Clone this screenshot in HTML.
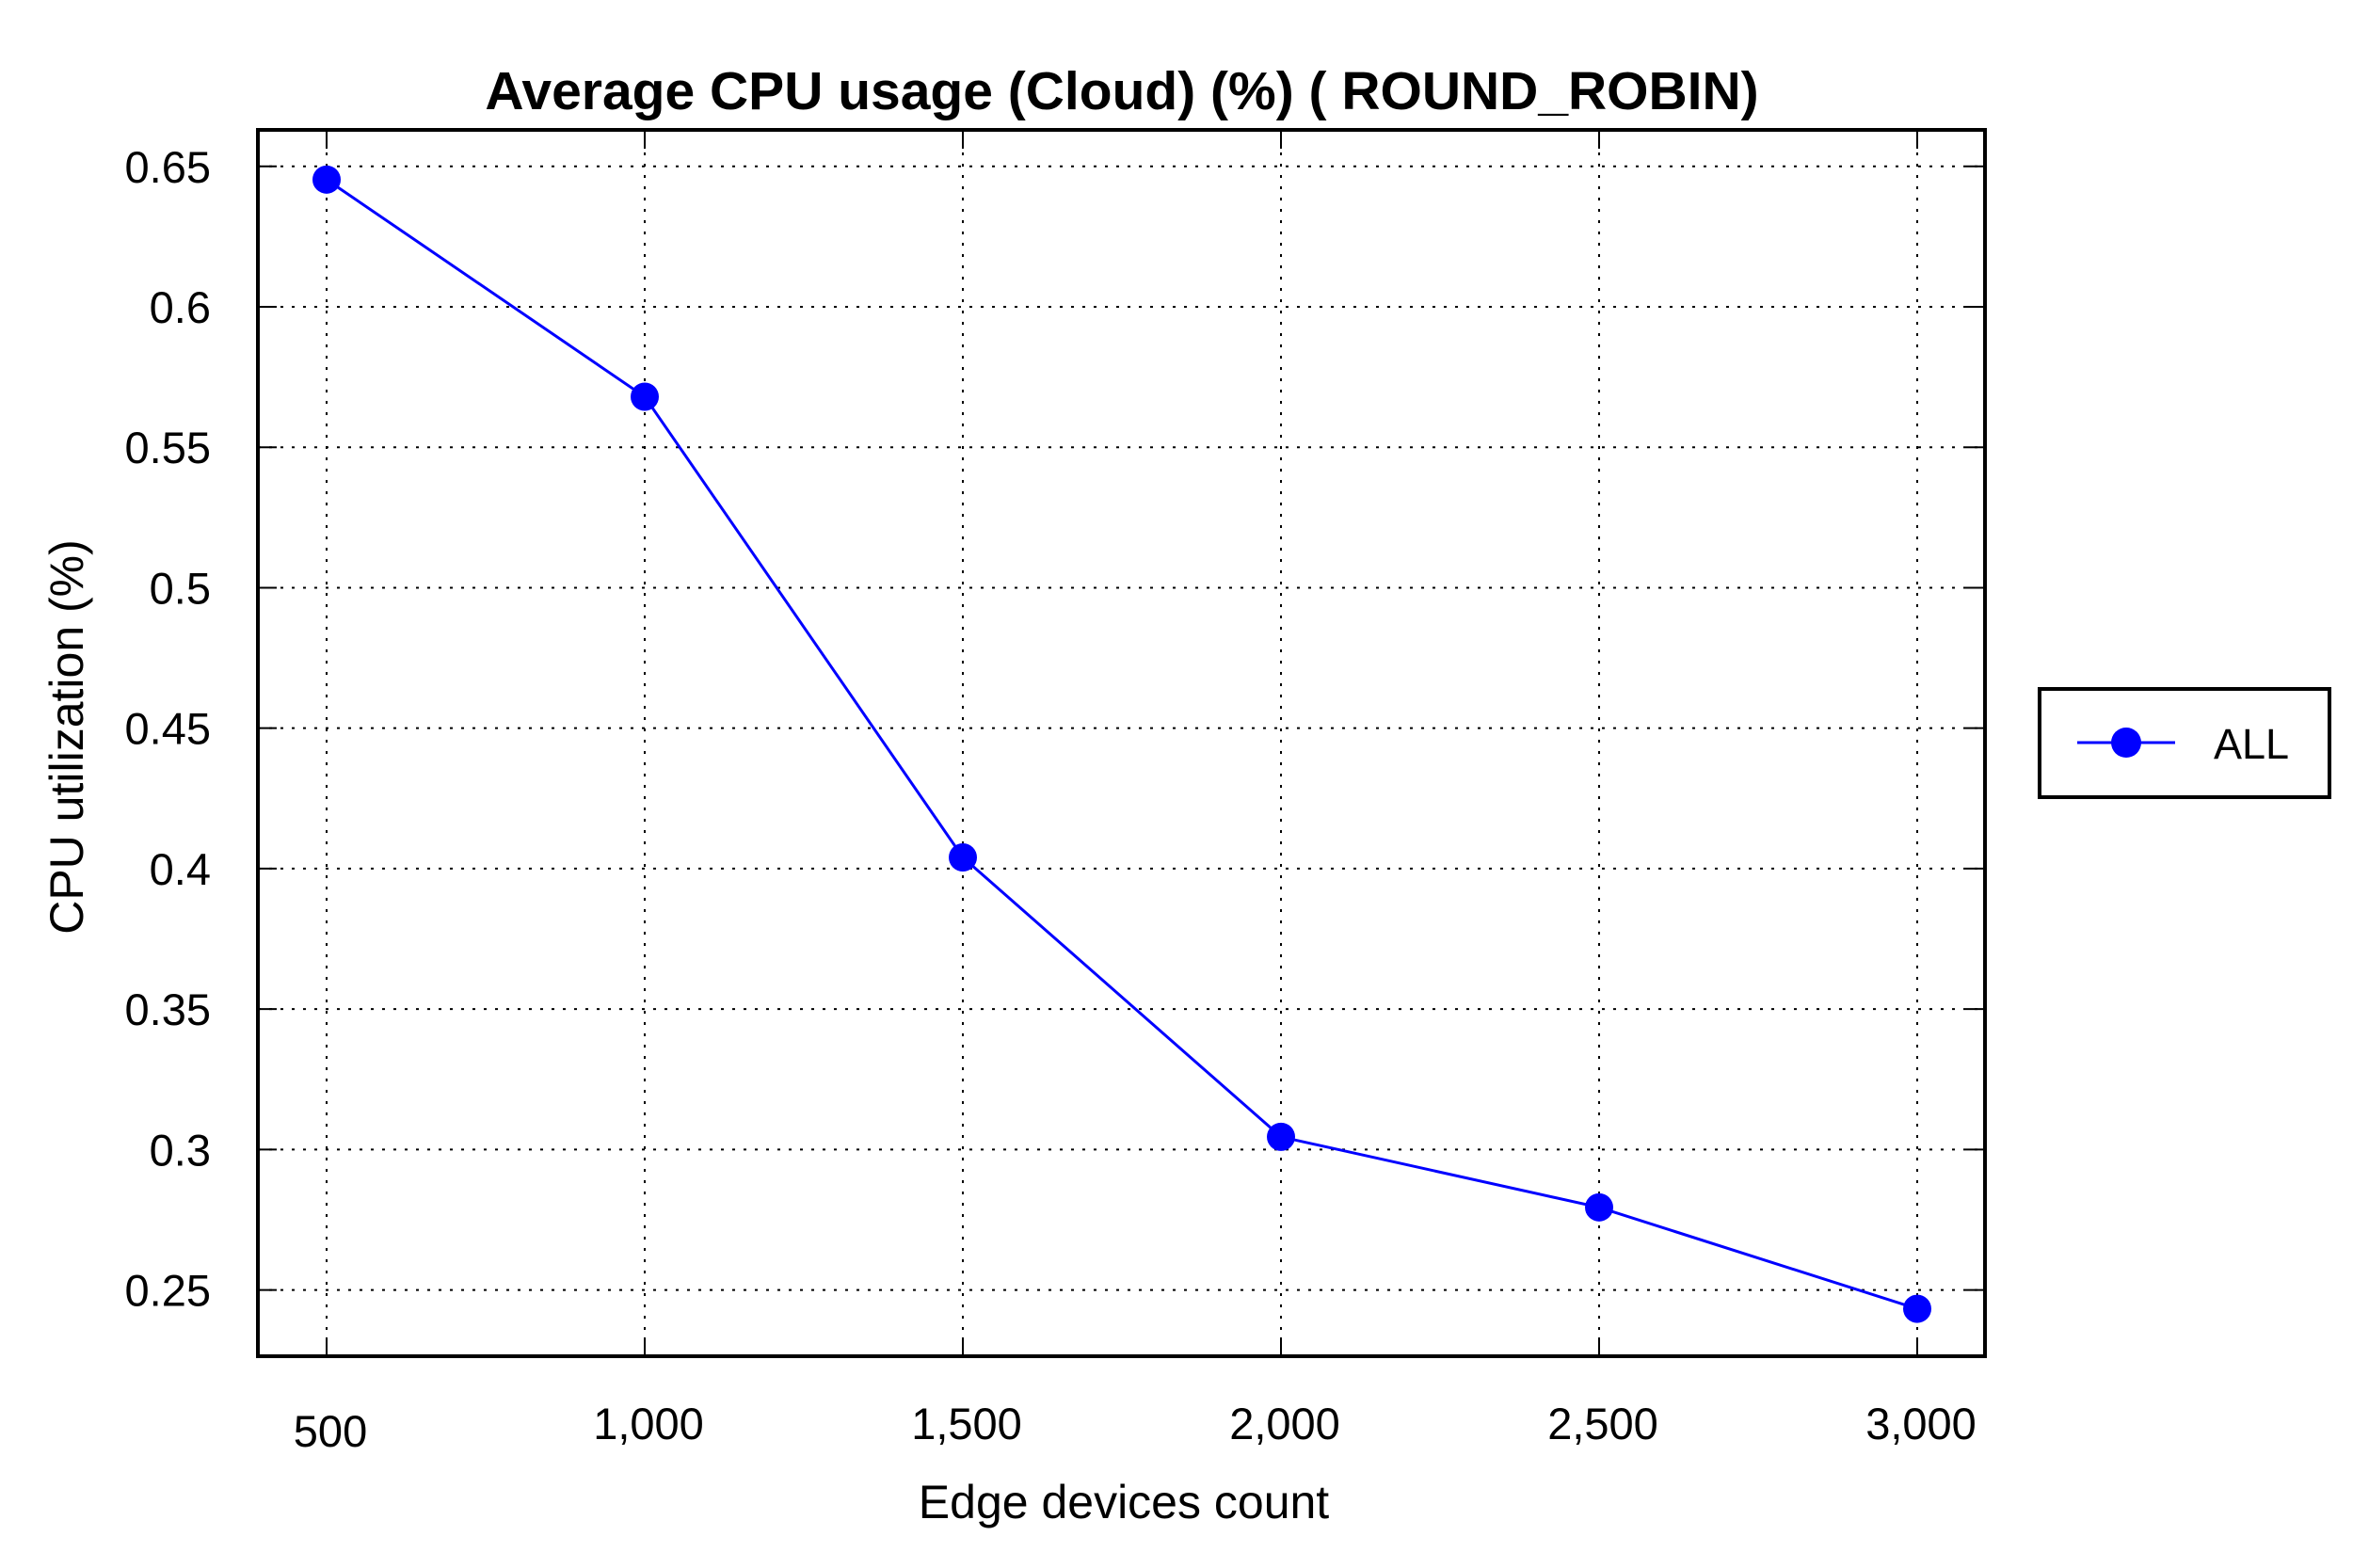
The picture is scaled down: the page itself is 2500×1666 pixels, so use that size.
<!DOCTYPE html>
<html><head><meta charset="utf-8"><style>
html,body{margin:0;padding:0;background:#fff;}
svg{display:block;font-family:"Liberation Sans",Arial,sans-serif;}
</style></head><body>
<svg id="chart" width="2500" height="1666" viewBox="0 0 2500 1666" xmlns="http://www.w3.org/2000/svg">
<rect width="2500" height="1666" fill="#fff"/>
<text x="1192" y="116" text-anchor="middle" font-size="57" font-weight="bold">Average CPU usage (Cloud) (%) ( ROUND_ROBIN)</text>
<g id="grid"></g>
<g id="ticks"></g>
<g id="series"></g>
<rect x="274" y="138" width="1835" height="1303" fill="none" stroke="#000" stroke-width="4"/>
<text x="1194" y="1613" text-anchor="middle" font-size="50">Edge devices count</text>
<text transform="translate(88,783) rotate(-90)" text-anchor="middle" font-size="50">CPU utilization (%)</text>
<g>
<rect x="2167" y="732" width="308" height="115" fill="#fff" stroke="#000" stroke-width="4"/>
<line x1="2207" y1="789" x2="2311" y2="789" stroke="#0000ff" stroke-width="3"/>
<circle cx="2259" cy="789" r="16" fill="#0000ff"/>
<text x="2352" y="806" font-size="45">ALL</text>
</g>
</svg>
<script>
const categories = [500, 1000, 1500, 2000, 2500, 3000];
const xTickLabels = ["500", "1,000", "1,500", "2,000", "2,500", "3,000"];
const seriesAll = [0.6453, 0.568, 0.404, 0.3045, 0.2794, 0.2433];
const yTicks = [0.25, 0.3, 0.35, 0.4, 0.45, 0.5, 0.55, 0.6, 0.65];
const yTickLabels = ["0.25", "0.3", "0.35", "0.4", "0.45", "0.5", "0.55", "0.6", "0.65"];

const L = 274, R = 2109, T = 138, B = 1441;
const xMin = 392, xMax = 3106.5, yMin = 0.2264, yMax = 0.6630;
const xs = v => L + (v - xMin) / (xMax - xMin) * (R - L);
const ys = v => B - (v - yMin) / (yMax - yMin) * (B - T);
const NS = "http://www.w3.org/2000/svg";
function mk(tag, attrs, parent) {
  const e = document.createElementNS(NS, tag);
  for (const k in attrs) e.setAttribute(k, attrs[k]);
  parent.appendChild(e);
  return e;
}
const grid = document.getElementById('grid');
const ticks = document.getElementById('ticks');
const series = document.getElementById('series');

yTicks.forEach((v, i) => {
  const y = ys(v);
  const g = mk('line', {x1: L, x2: R, y1: y, y2: y, stroke: '#000', 'stroke-width': 2, 'stroke-dasharray': '3 9'}, grid);
  
  
  const t1 = mk('line', {x1: L, x2: L + 20, y1: y, y2: y, stroke: '#000', 'stroke-width': 2}, ticks);
  
  
  const t2 = mk('line', {x1: R - 20, x2: R, y1: y, y2: y, stroke: '#000', 'stroke-width': 2}, ticks);
  
  
  const lb = mk('text', {x: 224, y: y + 17, 'text-anchor': 'end', 'font-size': 47}, ticks);
  lb.textContent = yTickLabels[i];
  
  
});
categories.forEach((v, i) => {
  const x = xs(v);
  const g = mk('line', {x1: x, x2: x, y1: T, y2: B, stroke: '#000', 'stroke-width': 2, 'stroke-dasharray': '3 9'}, grid);
  
  
  const t1 = mk('line', {x1: x, x2: x, y1: B - 20, y2: B, stroke: '#000', 'stroke-width': 2}, ticks);
  
  
  const t2 = mk('line', {x1: x, x2: x, y1: T, y2: T + 20, stroke: '#000', 'stroke-width': 2}, ticks);
  
  
  const lb = mk('text', {x: x + 4, y: i === 0 ? 1537 : 1529, 'text-anchor': 'middle', 'font-size': 47}, ticks);
  lb.textContent = xTickLabels[i];
  
  
});
const pts = categories.map((c, i) => xs(c) + ',' + ys(seriesAll[i])).join(' ');
const line = mk('polyline', {points: pts, fill: 'none', stroke: '#0000ff', 'stroke-width': 3}, series);


categories.forEach((c, i) => {
  const p = mk('circle', {cx: xs(c), cy: ys(seriesAll[i]), r: 15, fill: '#0000ff'}, series);
  
  
});
</script>
</body></html>
